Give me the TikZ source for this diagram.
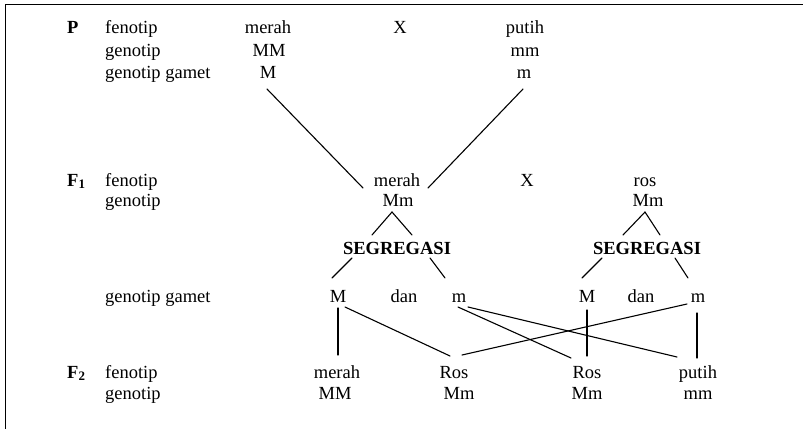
\documentclass[tikz,border=0pt]{standalone}
\usepackage{fontspec}
\setmainfont{Liberation Serif}
\usetikzlibrary{positioning}

\begin{document}
\begin{tikzpicture}[x=1pt, y=-1pt, font=\fontsize{18.5}{21}\selectfont]
\tikzset{
  word/.style = {anchor=base, inner sep=0pt},
  rowlbl/.style = {anchor=base west, inner sep=0pt},
  gen/.style = {anchor=base west, inner sep=0pt, font=\fontsize{18.5}{21}\selectfont\bfseries},
  link/.style = {line width=1.1pt, line cap=round}
}
\useasboundingbox (0,0) rectangle (803,429);

% Frame
\draw[line width=1.5pt] (803,4.5) -- (5.5,4.5) -- (5.5,429);

% Row labels
\node[gen] (P) at (67,33) {P};
\node[rowlbl] (pfen) at (105,33) {fenotip};
\node[rowlbl] (pgen) at (105,56) {genotip};
\node[rowlbl] (pgam) at (105,78) {genotip gamet};
\node[gen] (F1) at (67,186) {F\textsubscript{1}};
\node[rowlbl] (f1fen) at (105,186) {fenotip};
\node[rowlbl] (f1gen) at (105,206) {genotip};
\node[rowlbl] (f1gam) at (105,302) {genotip gamet};
\node[gen] (F2) at (67,378) {F\textsubscript{2}};
\node[rowlbl] (f2fen) at (105,378) {fenotip};
\node[rowlbl] (f2gen) at (105,399) {genotip};

% Parents
\node[word] (pMerah) at (268,33) {merah};
\node[word] (pMM) at (269,56) {MM};
\node[word] (pM) at (268,78) {M};
\node[word] (pX) at (400,33) {X};
\node[word] (pPutih) at (525,33) {putih};
\node[word] (pmm) at (525,56) {mm};
\node[word] (pm) at (524,78) {m};

% F1
\node[word] (fMerah) at (397,186) {merah};
\node[word] (fMm) at (398,206) {Mm};
\node[word] (fX) at (527,186) {X};
\node[word] (fRos) at (645,186) {ros};
\node[word] (fMm2) at (648,206) {Mm};
\node[word, font=\fontsize{18.5}{21}\selectfont\bfseries] (seg) at (397,254) {SEGREGASI};
\node[word, font=\fontsize{18.5}{21}\selectfont\bfseries] (seg2) at (647,254) {SEGREGASI};

% Gametes
\node[word] (gM) at (338,302) {M};
\node[word] (gdan) at (404,302) {dan};
\node[word] (gm) at (459,302) {m};
\node[word] (gM2) at (587,302) {M};
\node[word] (gdan2) at (641,302) {dan};
\node[word] (gm2) at (698,302) {m};

% F2
\node[word] (sMerah) at (337,378) {merah};
\node[word] (sMM) at (335,399) {MM};
\node[word] (sRos) at (454,378) {Ros};
\node[word] (sMm) at (459,399) {Mm};
\node[word] (sRos2) at (587,378) {Ros};
\node[word] (sMm2) at (587,399) {Mm};
\node[word] (sPutih) at (698,378) {putih};
\node[word] (smm) at (698,399) {mm};

% Crossing P
\draw[link] ([shift={(-1,11)}]pM.base) -- ([shift={(-34,2)}]fMerah.base);
\draw[link] ([shift={(-1,11)}]pm.base) -- ([shift={(31,2)}]fMerah.base);

% Segregation
\draw[link] ([shift={(-25,-19)}]seg.base) -- ([shift={(-6,6)}]fMm.base) -- ([shift={(15,-19)}]seg.base);
\draw[link] ([shift={(-45,4)}]seg.base) -- ([shift={(-6,-24)}]gM.base);
\draw[link] ([shift={(33,4)}]seg.base) -- ([shift={(-14,-24)}]gm.base);
\draw[link] ([shift={(-24,-19)}]seg2.base) -- ([shift={(-3,6)}]fMm2.base) -- ([shift={(13,-19)}]seg2.base);
\draw[link] ([shift={(-45,4)}]seg2.base) -- ([shift={(-5,-24)}]gM2.base);
\draw[link] ([shift={(28,4)}]seg2.base) -- ([shift={(-10,-24)}]gm2.base);

% Crossing F1
\draw[link] ([shift={(0,6)}]gM.base) -- ([shift={(1,-23)}]sMerah.base);
\draw[link] ([shift={(7,5)}]gM.base) -- ([shift={(-4,-22)}]sRos.base);
\draw[link] ([shift={(-1,5)}]gm.base) -- ([shift={(-16,-20)}]sRos2.base);
\draw[link] ([shift={(9,5)}]gm.base) -- ([shift={(-21,-21)}]sPutih.base);
\draw[link] ([shift={(0,8)}]gM2.base) -- ([shift={(0,-22)}]sRos2.base);
\draw[link] ([shift={(-11,2)}]gm2.base) -- ([shift={(8,-23)}]sRos.base);
\draw[link] ([shift={(-1,11)}]gm2.base) -- ([shift={(-1,-20)}]sPutih.base);

\end{tikzpicture}
\end{document}
